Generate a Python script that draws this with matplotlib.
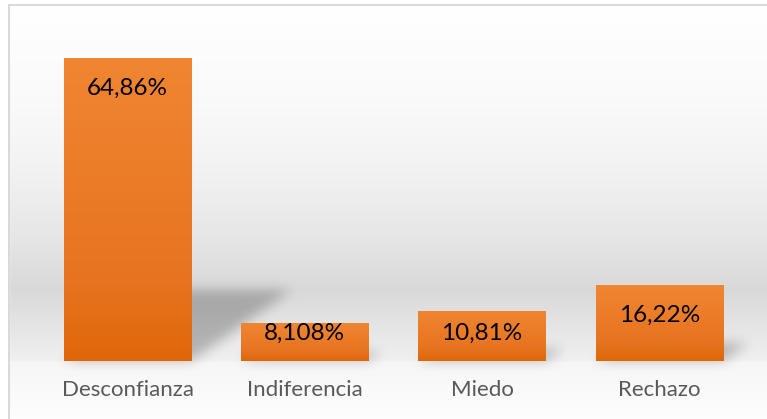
import numpy as np
import matplotlib
matplotlib.use('Agg')
import matplotlib.pyplot as plt
from matplotlib.patches import Polygon, Rectangle
from matplotlib.colors import LinearSegmentedColormap

# Data
categories = ['Desconfianza', 'Indiferencia', 'Miedo', 'Rechazo']
values = [64.86, 8.108, 10.81, 16.22]
value_labels = ['64,86%', '8,108%', '10,81%', '16,22%']

W, H = 767, 419
DPI = 100
fig = plt.figure(figsize=(W / DPI, H / DPI), dpi=DPI)
fig.patch.set_facecolor('white')

# Background gradient of the chart area (Office style)
bg = fig.add_axes([0, 0, 1, 1], zorder=-2)
rows = np.arange(H)
stops_y = [0, 5, 100, 170, 240, 290, 320, 360, 362, 419]
stops_v = [1.0, 1.0, 0.98, 0.95, 0.90, 0.85, 0.89, 0.94, 0.965, 0.995]
shade = np.interp(rows, stops_y, stops_v)
grad = np.repeat(shade[:, None], W, axis=1)
bg.imshow(np.dstack([grad, grad, grad]), aspect='auto', extent=[0, W, H, 0],
          interpolation='bilinear')
bg.set_xlim(0, W)
bg.set_ylim(H, 0)
bg.axis('off')
# white outside the chart border (top and left strips)
bg.add_patch(Rectangle((0, 0), W, 5, color='white', zorder=3))
bg.add_patch(Rectangle((0, 0), 9, H, color='white', zorder=3))
bg.plot([9, 9, W + 5], [H + 5, 5, 5], color='#d9d9d9', lw=1.5, zorder=4)

# Plot area
ymax = 70
ppu = 303 / 64.86  # pixels per percent
ax_h = ymax * ppu
ax = fig.add_axes([39 / W, 58 / H, 709 / W, ax_h / H])
ax.set_xlim(-0.5, len(categories) - 0.5)
ax.set_ylim(0, ymax)
ax.patch.set_alpha(0)
for s in ax.spines.values():
    s.set_visible(False)
ax.set_yticks([])

x = np.arange(len(categories))
width = 0.718


def gauss_blur(sigma_px, alpha):
    def _filter(im, dpi):
        pad = int(3 * sigma_px) + 1
        src = np.pad(im, [(pad, pad), (pad, pad), (0, 0)], 'constant')
        k = np.arange(-pad, pad + 1)
        kern = np.exp(-0.5 * (k / sigma_px) ** 2)
        kern /= kern.sum()
        a = src[:, :, 3]
        a = np.apply_along_axis(lambda r: np.convolve(r, kern, mode='same'), 0, a)
        a = np.apply_along_axis(lambda r: np.convolve(r, kern, mode='same'), 1, a)
        out = np.zeros_like(src)
        out[:, :, 3] = a * alpha
        return out, -pad, -pad
    return _filter


# perspective shadows behind the bars
for xi, v in zip(x, values):
    sh = 0.234 * v
    dx = 0.0087 * v
    poly = Polygon([(xi - width / 2, 0), (xi + width / 2, 0),
                    (xi + width / 2 + dx, sh), (xi - width / 2 + dx, sh)],
                   closed=True, facecolor='black', edgecolor='none', zorder=1)
    poly.set_agg_filter(gauss_blur(6, 0.24))
    poly.set_rasterized(True)
    ax.add_patch(poly)

bars = ax.bar(x, values, width=width, color='#e97722', zorder=2)

bar_cmap = LinearSegmentedColormap.from_list(
    'orange', [(0, '#f08632'), (0.75, '#e77320'), (1, '#df6708')])
g = np.linspace(0, 1, 256)[:, None]
for b in bars:
    x0, y0 = b.get_x(), b.get_y()
    im = ax.imshow(g, cmap=bar_cmap, aspect='auto', zorder=3,
                   extent=[x0, x0 + b.get_width(), y0, y0 + b.get_height()],
                   origin='upper', interpolation='bilinear')
    im.set_clip_path(b)
ax.set_xlim(-0.5, len(categories) - 0.5)
ax.set_ylim(0, ymax)

# data labels, inside end
for xi, v, lab in zip(x, values, value_labels):
    yc = max(v - 30 / ppu, 28 / ppu)
    ax.text(xi, yc, lab, ha='center', va='center', fontsize=17.5,
            family='Lato', color='black', zorder=5)

ax.set_xticks(x)
ax.set_xticklabels(categories, fontsize=16, family='Lato', color='#595959')
ax.tick_params(axis='x', length=0, pad=14)

fig.savefig('out.png', dpi=DPI)
